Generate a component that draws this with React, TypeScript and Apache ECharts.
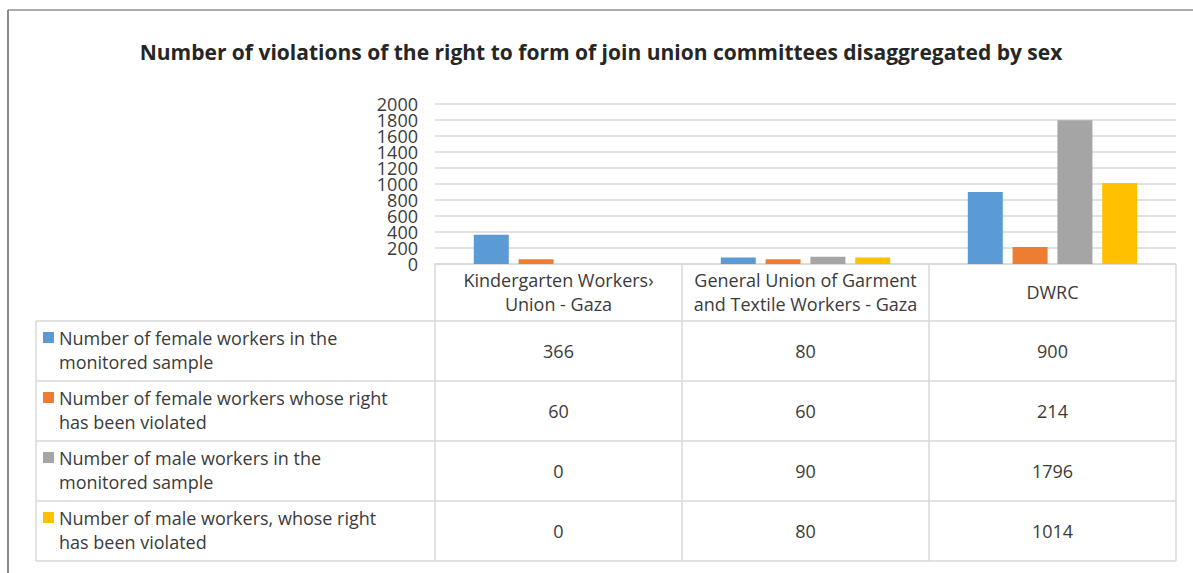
import React, { useEffect, useRef } from "react";
import * as echarts from "echarts";

const titleText = "Number of violations of the right to form of join union committees disaggregated by sex";
const categories = [
  "Kindergarten Workers›\nUnion - Gaza",
  "General Union of Garment\nand Textile Workers - Gaza",
  "DWRC",
];
const seriesNames = [
  "Number of female workers in the\nmonitored sample",
  "Number of female workers whose right\nhas been violated",
  "Number of male workers in the\nmonitored sample",
  "Number of male workers, whose right\nhas been violated",
];
const femaleSample = [366, 80, 900];
const femaleViolated = [60, 60, 214];
const maleSample = [0, 90, 1796];
const maleViolated = [0, 80, 1014];
const yTickValues = [0, 200, 400, 600, 800, 1000, 1200, 1400, 1600, 1800, 2000];

const colors = ["#5B9BD5", "#ED7D31", "#A5A5A5", "#FFC000"];
const FONT = "Open Sans";
const TXT = "#3b3b3b";
const GRID_C = "#d9d9d9";

export default function App() {
  const ref = useRef<HTMLDivElement>(null);
  useEffect(() => {
    document.body.style.margin = "0";
    const chart = echarts.init(ref.current!, null, { renderer: "svg" });
    const seriesData = [femaleSample, femaleViolated, maleSample, maleViolated];

    const left = 435, right = 1176, axisY = 264;
    const colW = (right - left) / 3;
    const tableLeft = 36, rowTop0 = 321, rowH = 60;
    const nRows = seriesData.length;
    const tableBottom = rowTop0 + nRows * rowH;
    const lineStyle = { stroke: GRID_C, lineWidth: 1.5 };
    const g: any[] = [];
    // frame
    g.push({ type: "line", shape: { x1: 8, y1: 10, x2: 1193, y2: 10 }, style: { stroke: "#595959", lineWidth: 1 } });
    g.push({ type: "line", shape: { x1: 8, y1: 10, x2: 8, y2: 573 }, style: { stroke: "#8c8c8c", lineWidth: 2 } });
    for (let i = 0; i <= 3; i++) {
      const x = left + i * colW;
      g.push({ type: "line", shape: { x1: x, y1: axisY, x2: x, y2: tableBottom }, style: lineStyle });
    }
    g.push({ type: "line", shape: { x1: tableLeft, y1: rowTop0, x2: tableLeft, y2: tableBottom }, style: lineStyle });
    for (let r = 0; r <= nRows; r++) {
      const y = rowTop0 + r * rowH;
      g.push({ type: "line", shape: { x1: tableLeft, y1: y, x2: right, y2: y }, style: lineStyle });
    }
    seriesData.forEach((arr, r) => {
      const top = rowTop0 + r * rowH;
      g.push({ type: "rect", shape: { x: 43, y: top + 11, width: 11, height: 11 }, style: { fill: colors[r] } });
      g.push({
        type: "text", x: 59, y: top + 29,
        style: { text: seriesNames[r], font: `18px '${FONT}'`, fill: TXT, lineHeight: 24, verticalAlign: "middle", align: "left" },
      });
      arr.forEach((v, c) => {
        g.push({
          type: "text", x: left + (c + 0.5) * colW, y: top + 30,
          style: { text: String(v), font: `18px '${FONT}'`, fill: TXT, align: "center", verticalAlign: "middle" },
        });
      });
    });

    const interval = yTickValues[1] - yTickValues[0];
    chart.setOption({
      animation: false,
      title: {
        text: titleText, left: 596, top: 36, textAlign: "center",
        textStyle: { fontFamily: FONT, fontWeight: "bold", fontSize: 21, color: "#262626" },
      },
      grid: { left: 435, right: 1193 - 1176, top: 104, height: 160, containLabel: false },
      xAxis: {
        type: "category", data: categories,
        axisLine: { lineStyle: { color: GRID_C, width: 1.5 } },
        axisTick: { show: false },
        axisLabel: { margin: 28, verticalAlign: "middle", fontFamily: FONT, fontSize: 18, color: TXT, lineHeight: 24, interval: 0 },
      },
      yAxis: {
        type: "value", min: yTickValues[0], max: yTickValues[yTickValues.length - 1], interval,
        axisLabel: { show: false },
        splitLine: { lineStyle: { color: GRID_C, width: 1.5 } },
        axisLine: { show: false }, axisTick: { show: false },
      },
      series: seriesData.map((d, i) => ({
        type: "bar", name: seriesNames[i], data: d,
        itemStyle: { color: colors[i] },
        barWidth: 35, barGap: "28%",
      })),
      graphic: g,
    });

    // y-axis tick labels placed through the axis scale
    const labels = yTickValues.map((v) => {
      const y = chart.convertToPixel({ yAxisIndex: 0 }, v) as number;
      return {
        type: "text", x: left - 17, y,
        style: { text: String(v), font: `18px '${FONT}'`, lineHeight: 15, fill: TXT, align: "right", verticalAlign: "middle" },
      };
    });
    chart.setOption({ graphic: [...g, ...labels] });
    return () => chart.dispose();
  }, []);
  return <div ref={ref} style={{ width: 1193, height: 573 }} />;
}
